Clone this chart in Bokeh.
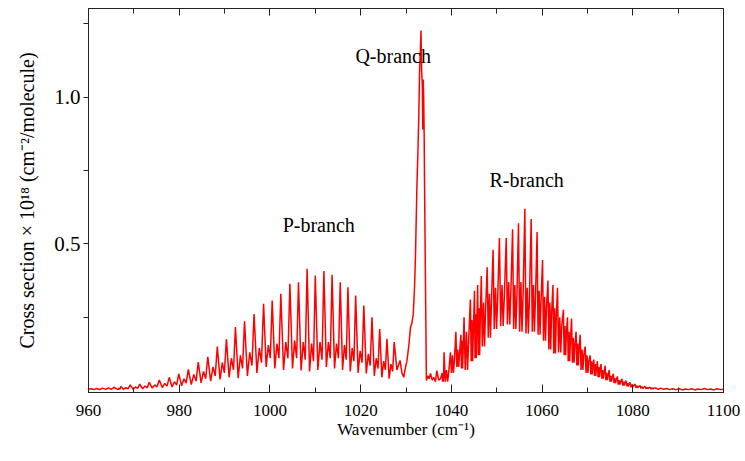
from bokeh.plotting import figure
from bokeh.models import Range1d, FixedTicker, LinearAxis, PrintfTickFormatter
from bokeh.core.properties import value
from bokeh.embed import file_html
from bokeh.resources import INLINE

# ---------------- data ----------------
# low-level ripples before the P-branch
pre_x = [960.0, 960.6, 961.2, 961.8, 962.5, 963.1, 963.8, 964.4, 965.0, 965.6, 966.3]
pre_y = [0.004, 0.006, 0.003, 0.007, 0.003, 0.008, 0.004, 0.009, 0.004, 0.011, 0.005]

# P-branch rotational lines
p_x = [967.1, 969.2, 971.3, 973.4, 975.6, 977.8, 979.9, 982.0, 984.2, 986.3, 988.4, 990.4,
       992.4, 994.4, 996.5, 998.6, 1000.5, 1002.4, 1004.4, 1006.3, 1008.2, 1010.0, 1011.9,
       1013.7, 1015.5, 1017.2, 1018.9, 1020.7, 1022.5, 1024.2, 1025.8, 1027.4]
p_peak = [0.014, 0.019, 0.022, 0.028, 0.036, 0.045, 0.057, 0.072, 0.097, 0.115, 0.15, 0.175,
          0.216, 0.236, 0.261, 0.296, 0.307, 0.33, 0.364, 0.369, 0.415, 0.392, 0.407,
          0.395, 0.369, 0.352, 0.324, 0.29, 0.25, 0.21, 0.176, 0.165]
p_trough = [0.003, 0.004, 0.004, 0.006, 0.008, 0.010, 0.012, 0.016, 0.020, 0.026, 0.032, 0.038,
            0.045, 0.042, 0.05, 0.06, 0.08, 0.075, 0.07, 0.075, 0.068, 0.065, 0.07,
            0.08, 0.075, 0.07, 0.065, 0.06, 0.058, 0.05, 0.045, 0.04]
p_shoulder = [0.008, 0.010, 0.012, 0.015, 0.019, 0.024, 0.03, 0.04, 0.055, 0.065, 0.08, 0.095,
              0.11, 0.12, 0.13, 0.145, 0.155, 0.16, 0.165, 0.17, 0.165, 0.16, 0.165,
              0.165, 0.16, 0.155, 0.145, 0.135, 0.125, 0.11, 0.10, 0.09]
p_dip = [0.004, 0.006, 0.007, 0.009, 0.012, 0.015, 0.018, 0.025, 0.032, 0.04, 0.05, 0.06,
         0.07, 0.075, 0.085, 0.095, 0.11, 0.11, 0.11, 0.11, 0.105, 0.10, 0.105,
         0.11, 0.11, 0.105, 0.10, 0.095, 0.085, 0.075, 0.07, 0.065]

# Q-branch
q_x = [1028.0, 1028.7, 1029.1, 1029.5, 1029.9, 1030.2, 1030.6, 1031.0, 1031.3, 1031.6, 1031.9,
       1032.1, 1032.4, 1032.6, 1032.8, 1033.0, 1033.15, 1033.3, 1033.45, 1033.6, 1033.7,
       1033.8, 1033.9, 1034.0, 1034.15, 1034.3, 1034.5]
q_y = [0.07, 0.102, 0.06, 0.045, 0.08, 0.10, 0.15, 0.216, 0.23, 0.26, 0.36,
       0.466, 0.693, 0.80, 0.92, 1.09, 1.15, 1.227, 1.09, 1.04, 0.89,
       1.06, 1.0, 0.876, 0.60, 0.352, 0.034]

# gap between Q and R branches
gap_x = [1034.8, 1035.1, 1035.4, 1035.8, 1036.1, 1036.5, 1036.8, 1037.2, 1037.6, 1038.0]
gap_y = [0.05, 0.04, 0.058, 0.035, 0.045, 0.03, 0.068, 0.035, 0.04, 0.06]

# R-branch: strong lines, weaker lines in between and minima
r_x = [1038.4, 1039.8, 1041.0, 1042.1, 1042.8, 1044.2, 1045.1, 1045.8, 1046.6, 1047.9,
       1049.2, 1050.6, 1052.1, 1053.5, 1054.8, 1056.2, 1057.6, 1058.9, 1060.1, 1061.3,
       1062.4, 1063.4, 1064.7, 1065.6, 1066.5, 1067.5, 1068.4, 1069.5, 1070.6, 1071.4,
       1072.2, 1073.0, 1073.9, 1074.8, 1075.7, 1076.6, 1077.6, 1078.5, 1079.4, 1080.5,
       1081.6, 1082.7, 1083.8, 1085.0]
r_peak = [0.13, 0.13, 0.20, 0.19, 0.25, 0.31, 0.34, 0.36, 0.39, 0.42,
          0.48, 0.52, 0.52, 0.55, 0.57, 0.62, 0.585, 0.54, 0.445, 0.375,
          0.36, 0.35, 0.275, 0.25, 0.245, 0.20, 0.19, 0.15, 0.12, 0.105,
          0.10, 0.09, 0.085, 0.07, 0.057, 0.048, 0.04, 0.034, 0.028, 0.022,
          0.017, 0.014, 0.011, 0.009]
r_trough = [0.03, 0.03, 0.06, 0.08, 0.075, 0.07, 0.10, 0.11, 0.12, 0.15,
            0.18, 0.21, 0.22, 0.225, 0.21, 0.20, 0.194, 0.20, 0.19, 0.17,
            0.14, 0.126, 0.13, 0.12, 0.10, 0.095, 0.085, 0.07, 0.06, 0.055,
            0.05, 0.045, 0.04, 0.035, 0.03, 0.025, 0.02, 0.017, 0.014, 0.011,
            0.009, 0.007, 0.006, 0.005]
r_weak = [0.06, 0.07, 0.12, 0.14, 0.17, 0.20, 0.24, 0.26, 0.28, 0.30,
          0.33, 0.35, 0.36, 0.37, 0.36, 0.37, 0.35, 0.36, 0.34, 0.32,
          0.30, 0.28, 0.25, 0.22, 0.20, 0.18, 0.16, 0.14, 0.12, 0.10,
          0.09, 0.08, 0.07, 0.06, 0.05, 0.042, 0.035, 0.03, 0.025, 0.02,
          0.016, 0.013, 0.011, 0.009]
r_weak2 = [0.05, 0.06, 0.10, 0.12, 0.14, 0.17, 0.20, 0.22, 0.24, 0.27,
           0.30, 0.31, 0.32, 0.33, 0.31, 0.32, 0.31, 0.31, 0.30, 0.28,
           0.26, 0.24, 0.22, 0.19, 0.17, 0.15, 0.14, 0.12, 0.10, 0.085,
           0.075, 0.07, 0.06, 0.05, 0.043, 0.036, 0.03, 0.026, 0.021, 0.017,
           0.014, 0.011, 0.009, 0.008]

# high-wavenumber tail
tail_x = [1085.6, 1086.2, 1086.8, 1087.5, 1088.1, 1088.8, 1089.5, 1090.2, 1090.9, 1091.6, 1092.3,
          1093.0, 1093.7, 1094.4, 1095.1, 1095.8, 1096.5, 1097.2, 1097.9, 1098.6, 1099.3, 1100.0]
tail_y = [0.004, 0.008, 0.004, 0.007, 0.003, 0.006, 0.003, 0.006, 0.002, 0.005, 0.003,
          0.006, 0.002, 0.005, 0.003, 0.007, 0.003, 0.005, 0.002, 0.006, 0.003, 0.004]

# axis ticks
x_major = [960, 980, 1000, 1020, 1040, 1060, 1080, 1100]
x_minor = [970, 990, 1010, 1030, 1050, 1070, 1090]
y_major = [0.5, 1.0]
y_minor = [0.25, 0.75, 1.25]

# branch annotations
label_text = ["P-branch", "Q-branch", "R-branch"]
label_x = [1002.8, 1018.85, 1048.4]
label_y = [0.563, 1.142, 0.716]

# ---------------- assemble the trace ----------------
xs, ys = list(pre_x), list(pre_y)
prev = xs[-1]
for x, pk, tr, sh, dp in zip(p_x, p_peak, p_trough, p_shoulder, p_dip):
    d = x - prev
    xs += [prev + 0.3 * d, prev + 0.55 * d, prev + 0.78 * d, x]
    ys += [tr, sh, dp, pk]
    prev = x
xs += q_x
ys += q_y
xs += gap_x
ys += gap_y
prev = xs[-1]
for x, pk, tr, wk, wk2 in zip(r_x, r_peak, r_trough, r_weak, r_weak2):
    d = x - prev
    xs += [prev + 0.18 * d, prev + 0.38 * d, prev + 0.55 * d, prev + 0.72 * d, x]
    ys += [tr, wk, tr, wk2, pk]
    prev = x
xs += tail_x
ys += tail_y

# ---------------- figure ----------------
FONT = "'Liberation Serif', 'Times New Roman', serif"
AX = "#222222"

p = figure(width=744, height=452, x_range=Range1d(960, 1100), y_range=Range1d(-0.0068, 1.3024),
           output_backend="svg", toolbar_location=None, title=None,
           min_border_left=88, min_border_right=21, min_border_top=8, min_border_bottom=60,
           background_fill_color="white", border_fill_color="white")
p.grid.visible = False
p.outline_line_color = AX
p.outline_line_width = 1

p.line(xs, ys, line_color="#ff0000", line_width=1.5)

p.text(x=label_x, y=label_y, text=label_text, text_font=value(FONT), text_font_size=value("20px"),
       text_align="left", text_baseline="alphabetic", text_color="black")

xa = p.xaxis[0]
xa.ticker = FixedTicker(ticks=x_major, minor_ticks=x_minor)
xa.major_tick_in = 8
xa.major_tick_out = 0
xa.minor_tick_in = 5
xa.minor_tick_out = 0
xa.axis_line_color = AX
xa.major_tick_line_color = AX
xa.minor_tick_line_color = AX
xa.major_label_text_font = FONT
xa.major_label_text_font_size = "17px"
xa.major_label_text_color = "black"
xa.major_label_standoff = 12
xa.axis_label = "Wavenumber (cm\u207b\u00b9)"
xa.axis_label_text_font = FONT
xa.axis_label_text_font_size = "17px"
xa.axis_label_text_font_style = "normal"
xa.axis_label_text_color = "black"
xa.axis_label_standoff = 1

ya = p.yaxis[0]
ya.ticker = FixedTicker(ticks=y_major, minor_ticks=y_minor)
ya.formatter = PrintfTickFormatter(format="%.1f")
ya.major_tick_in = 0
ya.major_tick_out = 5
ya.minor_tick_in = 0
ya.minor_tick_out = 5
ya.axis_line_color = AX
ya.major_tick_line_color = AX
ya.minor_tick_line_color = AX
ya.major_label_text_font = FONT
ya.major_label_text_font_size = "21px"
ya.major_label_text_color = "black"
ya.major_label_standoff = 3
ya.axis_label = "Cross section \u00d7 10\u00b9\u2078 (cm\u207b\u00b2/molecule)"
ya.axis_label_text_font = FONT
ya.axis_label_text_font_size = "20px"
ya.axis_label_text_font_style = "normal"
ya.axis_label_text_color = "black"
ya.axis_label_standoff = 13

top = LinearAxis(ticker=FixedTicker(ticks=x_major, minor_ticks=x_minor),
                 major_tick_in=7, major_tick_out=0, minor_tick_in=5, minor_tick_out=0,
                 major_label_text_color=None, major_label_text_font_size="0px",
                 major_label_standoff=0,
                 axis_line_color=AX, major_tick_line_color=AX, minor_tick_line_color=AX)
p.add_layout(top, "above")

open("out.html", "w").write(file_html(p, INLINE))
